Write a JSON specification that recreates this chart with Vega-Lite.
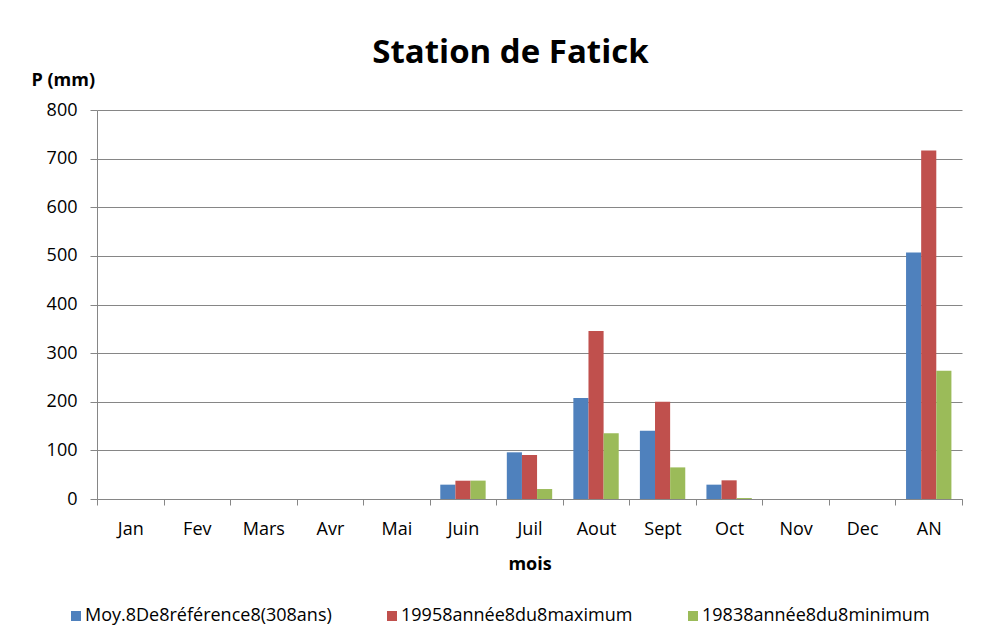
{
  "$schema": "https://vega.github.io/schema/vega-lite/v6.json",
  "width": 865,
  "height": 389,
  "autosize": {"type": "none"},
  "padding": {"left": 97, "top": 110, "right": 39, "bottom": 145},
  "background": "white",
  "config": {"view": {"stroke": null}, "font": "Open Sans"},
  "title": {"text": "Station de Fatick", "fontSize": 33, "font": "Open Sans", "fontWeight": "bold", "color": "black", "anchor": "middle", "offset": 1, "dx": -19},
  "data": {"values": [
    {"mois": "Jan", "serie": "Moy.8De8référence8(308ans)", "P": 0},
    {"mois": "Jan", "serie": "19958année8du8maximum", "P": 0},
    {"mois": "Jan", "serie": "19838année8du8minimum", "P": 0},
    {"mois": "Fev", "serie": "Moy.8De8référence8(308ans)", "P": 0},
    {"mois": "Fev", "serie": "19958année8du8maximum", "P": 0},
    {"mois": "Fev", "serie": "19838année8du8minimum", "P": 0},
    {"mois": "Mars", "serie": "Moy.8De8référence8(308ans)", "P": 0},
    {"mois": "Mars", "serie": "19958année8du8maximum", "P": 0},
    {"mois": "Mars", "serie": "19838année8du8minimum", "P": 0},
    {"mois": "Avr", "serie": "Moy.8De8référence8(308ans)", "P": 0},
    {"mois": "Avr", "serie": "19958année8du8maximum", "P": 0},
    {"mois": "Avr", "serie": "19838année8du8minimum", "P": 0},
    {"mois": "Mai", "serie": "Moy.8De8référence8(308ans)", "P": 0},
    {"mois": "Mai", "serie": "19958année8du8maximum", "P": 0},
    {"mois": "Mai", "serie": "19838année8du8minimum", "P": 0},
    {"mois": "Juin", "serie": "Moy.8De8référence8(308ans)", "P": 29.5},
    {"mois": "Juin", "serie": "19958année8du8maximum", "P": 37.6},
    {"mois": "Juin", "serie": "19838année8du8minimum", "P": 37.8},
    {"mois": "Juil", "serie": "Moy.8De8référence8(308ans)", "P": 96},
    {"mois": "Juil", "serie": "19958année8du8maximum", "P": 90.5},
    {"mois": "Juil", "serie": "19838année8du8minimum", "P": 20.5},
    {"mois": "Aout", "serie": "Moy.8De8référence8(308ans)", "P": 207.7},
    {"mois": "Aout", "serie": "19958année8du8maximum", "P": 345.5},
    {"mois": "Aout", "serie": "19838année8du8minimum", "P": 135},
    {"mois": "Sept", "serie": "Moy.8De8référence8(308ans)", "P": 140.5},
    {"mois": "Sept", "serie": "19958année8du8maximum", "P": 200},
    {"mois": "Sept", "serie": "19838année8du8minimum", "P": 65},
    {"mois": "Oct", "serie": "Moy.8De8référence8(308ans)", "P": 29.5},
    {"mois": "Oct", "serie": "19958année8du8maximum", "P": 38.4},
    {"mois": "Oct", "serie": "19838année8du8minimum", "P": 2},
    {"mois": "Nov", "serie": "Moy.8De8référence8(308ans)", "P": 0},
    {"mois": "Nov", "serie": "19958année8du8maximum", "P": 0},
    {"mois": "Nov", "serie": "19838année8du8minimum", "P": 0},
    {"mois": "Dec", "serie": "Moy.8De8référence8(308ans)", "P": 0},
    {"mois": "Dec", "serie": "19958année8du8maximum", "P": 0},
    {"mois": "Dec", "serie": "19838année8du8minimum", "P": 0},
    {"mois": "AN", "serie": "Moy.8De8référence8(308ans)", "P": 506.8},
    {"mois": "AN", "serie": "19958année8du8maximum", "P": 716.6},
    {"mois": "AN", "serie": "19838année8du8minimum", "P": 264}
  ]},
  "mark": {"type": "bar"},
  "encoding": {
    "x": {
      "field": "mois", "type": "nominal",
      "sort": ["Jan", "Fev", "Mars", "Avr", "Mai", "Juin", "Juil", "Aout", "Sept", "Oct", "Nov", "Dec", "AN"],
      "scale": {"paddingInner": 0, "paddingOuter": 0},
      "axis": {
        "title": "mois", "titleFontSize": 18, "titleFontWeight": "bold", "titleColor": "black", "titlePadding": 17,
        "labelAngle": 0, "labelFontSize": 18, "labelColor": "black", "labelPadding": 15,
        "tickBand": "extent", "tickSize": 6, "tickColor": "#868686", "domainColor": "#868686", "grid": false
      }
    },
    "xOffset": {
      "field": "serie",
      "sort": ["Moy.8De8référence8(308ans)", "19958année8du8maximum", "19838année8du8minimum"],
      "scale": {"paddingInner": 0, "paddingOuter": 0.7}
    },
    "y": {
      "field": "P", "type": "quantitative",
      "scale": {"domain": [0, 800], "nice": false},
      "axis": {
        "values": [0, 100, 200, 300, 400, 500, 600, 700, 800],
        "title": "P (mm)", "titleAngle": 0, "titleAlign": "left", "titleBaseline": "middle",
        "titleX": -66, "titleY": -30, "titleFontSize": 18, "titleFontWeight": "bold", "titleColor": "black",
        "labelFontSize": 18, "labelColor": "black", "labelPadding": 13,
        "tickSize": 7, "tickColor": "#868686", "domainColor": "#868686",
        "grid": true, "gridColor": "#868686", "gridWidth": 1
      }
    },
    "color": {
      "field": "serie", "type": "nominal",
      "scale": {"domain": ["Moy.8De8référence8(308ans)", "19958année8du8maximum", "19838année8du8minimum"], "range": ["#4F81BD", "#C0504D", "#9BBB59"]},
      "legend": {
        "title": null, "orient": "none", "direction": "horizontal", "legendX": -30, "legendY": 497,
        "symbolType": "square", "symbolSize": 100, "symbolStrokeWidth": 0, "labelOffset": 0,
        "labelFontSize": 18, "labelColor": "black", "labelLimit": 400, "columnPadding": 51
      }
    }
  }
}
